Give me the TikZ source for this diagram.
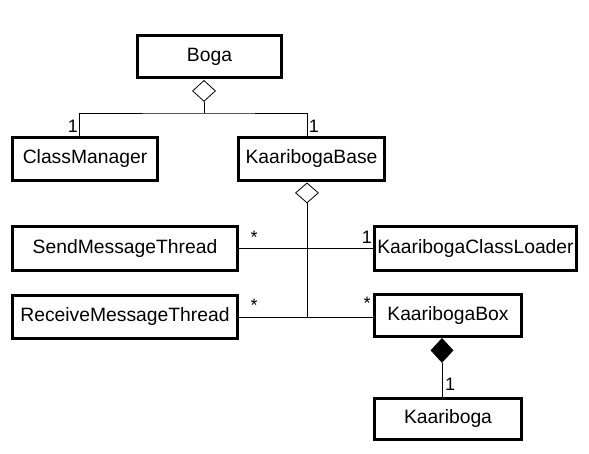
\documentclass[tikz,border=0pt]{standalone}
\usepackage{fontspec}
\setmainfont{Liberation Sans}
\usetikzlibrary{shapes.geometric}
\begin{document}
\begin{tikzpicture}[x=1pt,y=-1pt,
  cls/.style={draw, line width=3pt, inner sep=0pt, font=\fontsize{19.3}{22}\selectfont},
  odiam/.style={draw, diamond, inner sep=0pt, line width=0.8pt, fill=white, minimum width=23pt, minimum height=21pt},
  fdiam/.style={draw, diamond, inner sep=0pt, line width=0.8pt, fill=black, minimum width=22pt, minimum height=24pt},
  conn/.style={line width=1pt},
  mult/.style={font=\fontsize{18}{20}\selectfont, inner sep=0pt}]
\useasboundingbox (0,0) rectangle (589,453);
\node[cls, minimum width=144pt, minimum height=42pt] (Boga) at (209.5,56.5) {Boga};
\node[cls, minimum width=145pt, minimum height=43pt] (CM) at (85,159) {ClassManager};
\node[cls, minimum width=146pt, minimum height=43pt] (KB) at (311.5,159) {KaaribogaBase};
\node[cls, minimum width=225pt, minimum height=44pt] (SMT) at (125,248.5) {SendMessageThread};
\node[cls, minimum width=202pt, minimum height=44pt] (KCL) at (475.5,248.5) {KaaribogaClassLoader};
\node[cls, minimum width=225pt, minimum height=43pt] (RMT) at (125,317) {ReceiveMessageThread};
\node[cls, minimum width=147pt, minimum height=42pt] (KBox) at (448,315.5) {KaaribogaBox};
\node[cls, minimum width=147pt, minimum height=41pt] (K) at (448,419) {Kaariboga};

\node[odiam, anchor=north] (dB) at (204,80) {};
\node[odiam, anchor=north, minimum height=20pt] (dKB) at (307,182.5) {};
\node[fdiam, anchor=north] (dBox) at (442,338) {};

\coordinate (j1) at (204,113);
\coordinate (cmt) at (79,136);
\coordinate (kbt) at (307,136);
\coordinate (j2) at (307,317);

\draw[conn] (dB.south) -- (j1);
\draw[conn] (cmt) |- (j1) -| (kbt);
\draw[conn] (dKB.south) -- (j2);
\draw[conn] (SMT.east) -- (KCL.west);
\draw[conn] (RMT.east |- j2) -- (KBox.west |- j2);
\draw[conn] (dBox.south) -- (442,397);

\node[mult] (m1) at (73,126) {1};
\node[mult] (m2) at (314,126) {1};
\node[mult] (m3) at (254,237) {*};
\node[mult] (m4) at (367,237) {1};
\node[mult] (m5) at (254,305) {*};
\node[mult] (m6) at (367,303) {*};
\node[mult] (m7) at (450,384) {1};
\end{tikzpicture}
\end{document}
